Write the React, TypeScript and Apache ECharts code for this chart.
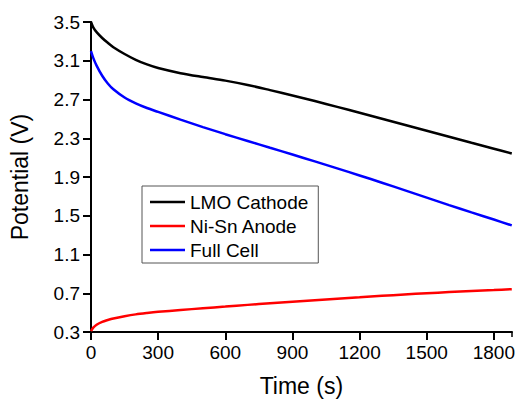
import React, { useEffect, useRef } from "react";
import * as echarts from "echarts";

const times = [0, 10, 25, 50, 75, 100, 150, 200, 250, 300, 400, 500, 600, 700, 800, 900, 1000, 1100, 1200, 1300, 1400, 1500, 1600, 1700, 1800, 1880];
const lmoCathode = [3.5, 3.445, 3.395, 3.335, 3.285, 3.24, 3.17, 3.11, 3.062, 3.025, 2.972, 2.932, 2.895, 2.85, 2.797, 2.742, 2.684, 2.624, 2.563, 2.502, 2.44, 2.378, 2.316, 2.254, 2.192, 2.142];
const niSnAnode = [0.31, 0.345, 0.375, 0.405, 0.424, 0.44, 0.463, 0.482, 0.496, 0.508, 0.527, 0.545, 0.562, 0.58, 0.597, 0.613, 0.628, 0.643, 0.658, 0.673, 0.687, 0.7, 0.712, 0.723, 0.733, 0.742];
const fullCell = [3.2, 3.13, 3.05, 2.945, 2.865, 2.805, 2.72, 2.66, 2.612, 2.572, 2.492, 2.415, 2.342, 2.272, 2.202, 2.132, 2.061, 1.989, 1.916, 1.841, 1.764, 1.687, 1.61, 1.535, 1.461, 1.4];
const seriesNames = ["LMO Cathode", "Ni-Sn Anode", "Full Cell"];
const seriesColors = ["#000000", "#ff0000", "#0000ff"];

const Y_MIN = 0.3;
const Y_MAX = 3.5;
const Y_STEP = 0.4;
const X_MAX = 1880;
const X_STEP = 300;

const FONT = "'Liberation Sans', Arial, sans-serif";

export default function App() {
  const ref = useRef<HTMLDivElement>(null);
  useEffect(() => {
    if (!ref.current) return;
    const chart = echarts.init(ref.current, undefined, { renderer: "svg" });
    const allData = [lmoCathode, niSnAnode, fullCell];
    const series = allData.map((vals, i) => ({
      name: seriesNames[i],
      type: "line",
      data: times.map((t, j) => [t, vals[j] - Y_MIN]),
      smooth: 0.3,
      symbol: "none",
      lineStyle: { color: seriesColors[i], width: 2.5 },
      itemStyle: { color: seriesColors[i] },
      z: 3,
    }));
    const axisLineStyle = { lineStyle: { color: "#000", width: 2 } };
    chart.setOption({
      animation: false,
      grid: { left: 91, right: 2, top: 22, bottom: 67, containLabel: false },
      legend: {
        orient: "vertical",
        left: 142,
        top: 186,
        icon: "rect",
        itemWidth: 35,
        itemHeight: 2.5,
        itemGap: 4,
        padding: [6, 10, 3, 8],
        borderColor: "#555",
        borderWidth: 1,
        borderRadius: 0,
        backgroundColor: "#fff",
        textStyle: { fontFamily: FONT, fontSize: 19, color: "#000", lineHeight: 20 },
        data: seriesNames,
      },
      xAxis: [
        {
          type: "value",
          min: 0,
          max: X_MAX,
          interval: X_STEP,
          position: "bottom",
          name: "Time (s)",
          nameLocation: "middle",
          nameGap: 42,
          nameTextStyle: { fontFamily: FONT, fontSize: 23, color: "#000" },
          axisLine: axisLineStyle,
          axisTick: { show: true, inside: false, length: 8, lineStyle: { color: "#000", width: 2 } },
          axisLabel: {
            fontFamily: FONT,
            fontSize: 19,
            color: "#000",
            margin: 11,
            showMaxLabel: false,
            formatter: (v: number) => String(v),
          },
          splitLine: { show: false },
        },
        {
          type: "value",
          min: 0,
          max: X_MAX,
          interval: X_STEP,
          position: "top",
          axisLine: axisLineStyle,
          axisTick: { show: true, inside: true, length: 5, lineStyle: { color: "#000", width: 1.5 } },
          axisLabel: { show: false },
          splitLine: { show: false },
        },
      ],
      yAxis: [
        {
          type: "value",
          min: 0,
          max: Y_MAX - Y_MIN,
          interval: Y_STEP,
          position: "left",
          name: "Potential (V)",
          nameLocation: "middle",
          nameGap: 60,
          nameTextStyle: { fontFamily: FONT, fontSize: 23, color: "#000" },
          axisLine: axisLineStyle,
          axisTick: { show: true, inside: false, length: 8, lineStyle: { color: "#000", width: 2 } },
          axisLabel: {
            fontFamily: FONT,
            fontSize: 19,
            color: "#000",
            margin: 11,
            formatter: (v: number) => (v + Y_MIN).toFixed(1),
          },
          splitLine: { show: false },
        },
        {
          type: "value",
          min: 0,
          max: Y_MAX - Y_MIN,
          interval: Y_STEP,
          position: "right",
          axisLine: axisLineStyle,
          axisTick: { show: true, inside: true, length: 5, lineStyle: { color: "#000", width: 1.5 } },
          axisLabel: { show: false },
          splitLine: { show: false },
        },
      ],
      series,
    });
    return () => chart.dispose();
  }, []);
  return (
    <div
      ref={ref}
      style={{ position: "fixed", left: 0, top: 0, width: 518, height: 402, background: "#fff" }}
    />
  );
}
